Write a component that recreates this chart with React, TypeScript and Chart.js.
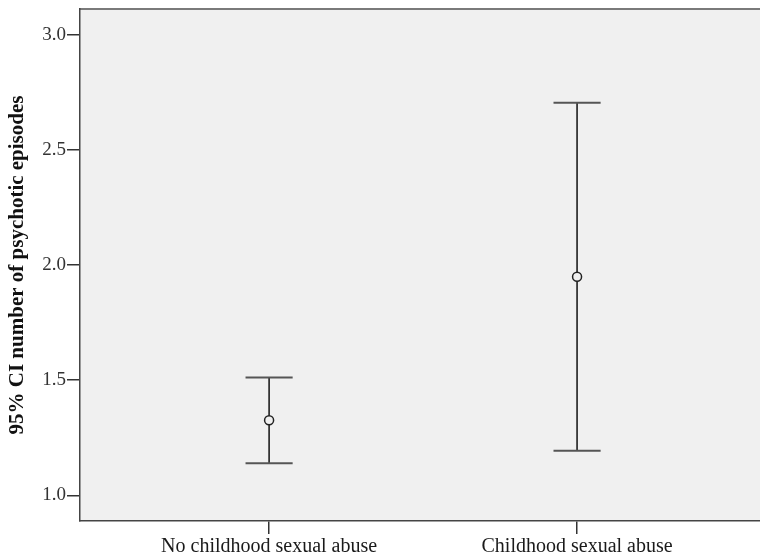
import React, { useEffect, useRef } from "react";
import { Chart, registerables } from "chart.js";

Chart.register(...registerables);

const categories = ["No childhood sexual abuse", "Childhood sexual abuse"];
const means = [1.326, 1.949];
const lowerCI = [1.14, 1.194];
const upperCI = [1.512, 2.704];
const yTicks = [1.0, 1.5, 2.0, 2.5, 3.0];

const SERIF = "'Liberation Serif', 'Times New Roman', serif";
const PLOT_BG = "#f0f0f0";

// Light grey panel behind the plot plus the top frame line
const panelPlugin = {
  id: "panel",
  beforeDraw(chart: any) {
    const { ctx, chartArea: a } = chart;
    ctx.save();
    ctx.fillStyle = PLOT_BG;
    ctx.fillRect(a.left, a.top, a.right - a.left, a.bottom - a.top);
    ctx.strokeStyle = "#7a7a7a";
    ctx.lineWidth = 2;
    ctx.beginPath();
    ctx.moveTo(a.left, a.top);
    ctx.lineTo(a.right, a.top);
    ctx.stroke();
    ctx.restore();
  },
};

// Whiskers with caps for the 95% confidence intervals
const errorBarPlugin = {
  id: "errorBars",
  beforeDatasetsDraw(chart: any) {
    const { ctx, scales } = chart;
    const xs = scales.x;
    const ys = scales.y;
    const capHalf = 0.0765;
    ctx.save();
    categories.forEach((_, i) => {
      const xv = i + 1;
      const x = xs.getPixelForValue(xv);
      const yLo = ys.getPixelForValue(lowerCI[i]);
      const yHi = ys.getPixelForValue(upperCI[i]);
      ctx.strokeStyle = "#111";
      ctx.lineWidth = 1.5;
      ctx.beginPath();
      ctx.moveTo(x, yHi);
      ctx.lineTo(x, yLo);
      ctx.stroke();
      ctx.strokeStyle = "#555";
      ctx.lineWidth = 2;
      const xl = xs.getPixelForValue(xv - capHalf);
      const xr = xs.getPixelForValue(xv + capHalf);
      ctx.beginPath();
      ctx.moveTo(xl, yHi);
      ctx.lineTo(xr, yHi);
      ctx.moveTo(xl, yLo);
      ctx.lineTo(xr, yLo);
      ctx.stroke();
    });
    ctx.restore();
  },
};

export default function App() {
  const canvasRef = useRef<HTMLCanvasElement | null>(null);

  useEffect(() => {
    if (!canvasRef.current) return;
    const chart = new Chart(canvasRef.current, {
      type: "scatter",
      data: {
        datasets: [
          {
            data: means.map((m, i) => ({ x: i + 1, y: m })),
            pointStyle: "circle",
            pointRadius: 4.5,
            pointBorderColor: "#222",
            pointBackgroundColor: PLOT_BG,
            pointBorderWidth: 1.5,
          },
        ],
      },
      options: {
        animation: false,
        responsive: false,
        events: [],
        layout: { autoPadding: false, padding: { top: 9, right: 0, left: 0, bottom: 0 } },
        plugins: {
          legend: { display: false },
          tooltip: { enabled: false },
        },
        scales: {
          x: {
            type: "linear",
            min: 0.386,
            max: 2.594,
            afterBuildTicks: (scale: any) => {
              scale.ticks = categories.map((_, i) => ({ value: i + 1 }));
            },
            afterFit: (scale: any) => {
              scale.height = 38;
              scale.paddingLeft = 0;
              scale.paddingRight = 0;
            },
            ticks: {
              autoSkip: false,
              maxRotation: 0,
              padding: 1,
              color: "#1a1a1a",
              font: { family: SERIF, size: 20 },
              callback: (v: any) => categories[Math.round(Number(v)) - 1] ?? "",
            },
            grid: {
              drawOnChartArea: false,
              drawTicks: true,
              tickLength: 13,
              color: "#333",
              lineWidth: 1.5,
            },
            border: { display: true, color: "#444", width: 1.5 },
          },
          y: {
            type: "linear",
            min: 0.889,
            max: 3.111,
            afterBuildTicks: (scale: any) => {
              scale.ticks = yTicks.map((v) => ({ value: v }));
            },
            afterFit: (scale: any) => {
              scale.width = 80;
              scale.paddingTop = 0;
              scale.paddingBottom = 0;
            },
            ticks: {
              padding: 1,
              color: "#333",
              font: { family: SERIF, size: 19 },
              callback: (v: any) => Number(v).toFixed(1),
            },
            grid: {
              drawOnChartArea: false,
              drawTicks: true,
              tickLength: 13,
              color: "#333",
              lineWidth: 1.5,
            },
            border: { display: true, color: "#444", width: 1.5 },
            title: {
              display: true,
              text: "95% CI number of psychotic episodes",
              color: "#111",
              font: { family: SERIF, size: 21, weight: "bold" },
              padding: { top: 5, bottom: 0 },
            },
          },
        },
      },
      plugins: [panelPlugin, errorBarPlugin],
    } as any);
    return () => chart.destroy();
  }, []);

  return (
    <canvas
      ref={canvasRef}
      width={760}
      height={559}
      style={{ position: "absolute", left: 0, top: 0, width: 760, height: 559 }}
    />
  );
}
